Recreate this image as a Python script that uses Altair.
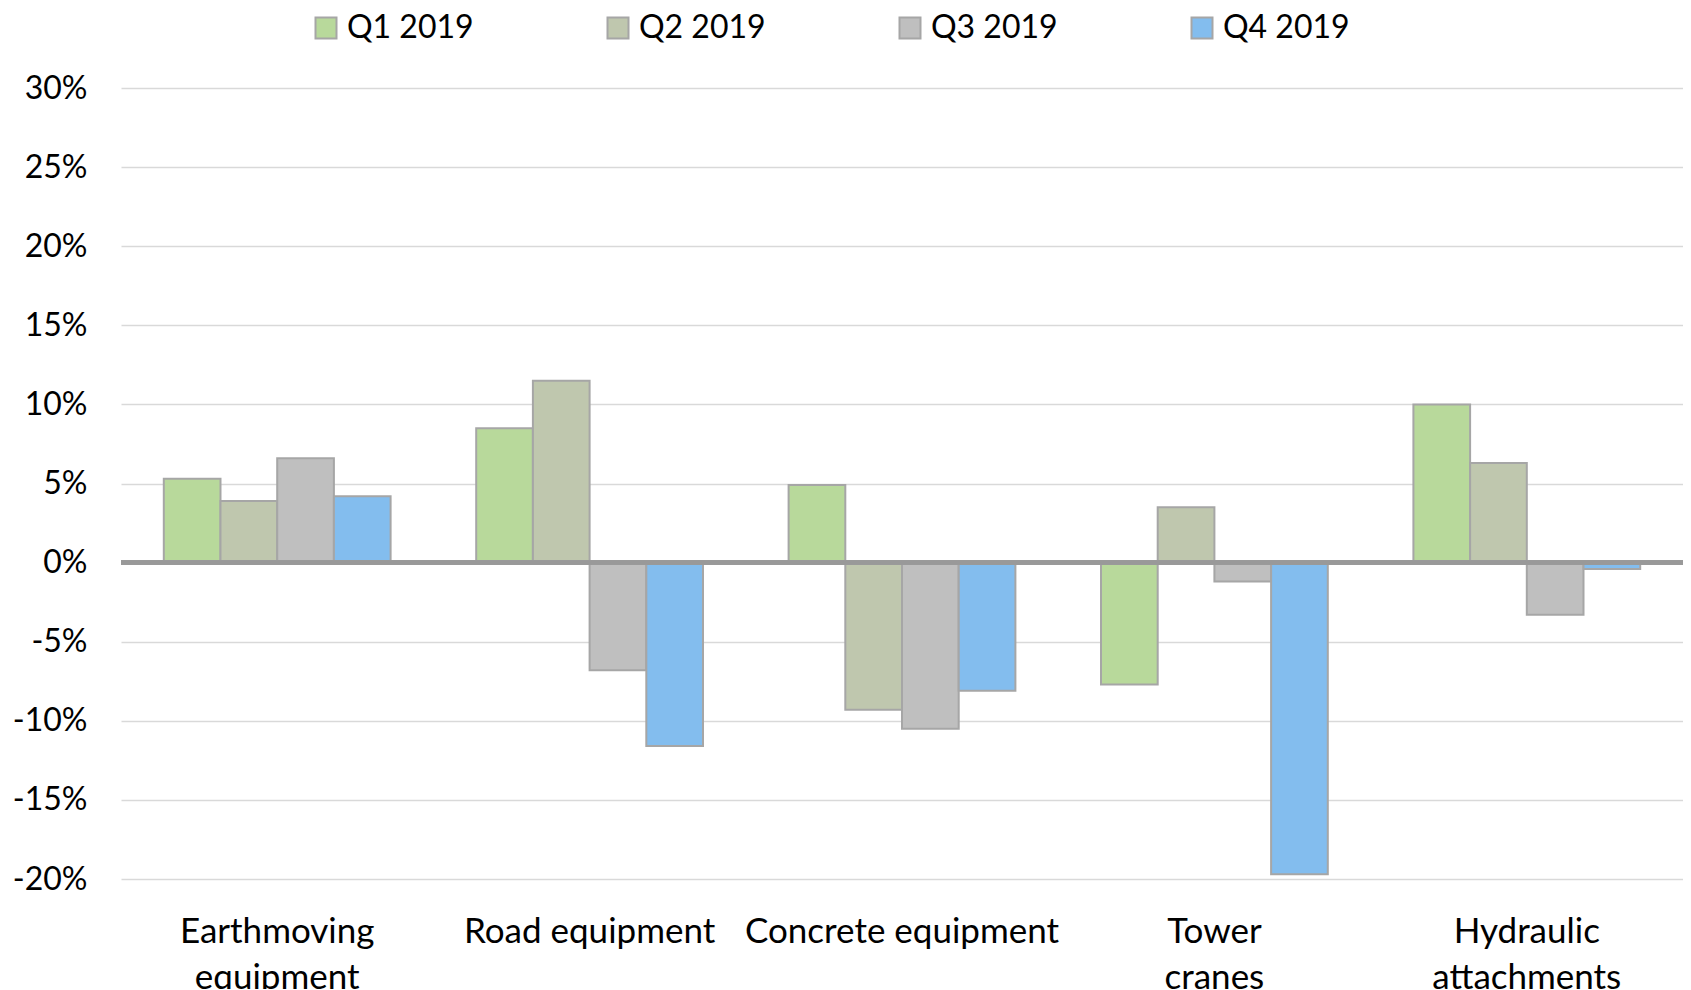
import altair as alt
import pandas as pd

categories = ["Earthmoving equipment", "Road equipment", "Concrete equipment",
              "Tower cranes", "Hydraulic attachments"]
quarters = ["Q1 2019", "Q2 2019", "Q3 2019", "Q4 2019"]
q1 = [5.3, 8.5, 4.9, -7.7, 10.0]
q2 = [3.9, 11.5, -9.3, 3.5, 6.3]
q3 = [6.6, -6.8, -10.5, -1.2, -3.3]
q4 = [4.2, -11.6, -8.1, -19.7, -0.4]
colors = ["#b8d99b", "#bfc7ae", "#bfbfbf", "#83bdee"]

rows = []
for qname, vals in zip(quarters, [q1, q2, q3, q4]):
    for c, v in zip(categories, vals):
        rows.append({"category": c, "quarter": qname, "value": v})
df = pd.DataFrame(rows)

FONT = "Lato"

bars = alt.Chart(df).mark_bar(stroke="#a6a6a6", strokeWidth=2).encode(
    x=alt.X("category:N", sort=categories, title=None,
            scale=alt.Scale(paddingInner=0.274, paddingOuter=0.137),
            axis=alt.Axis(labelAngle=0, domain=False, ticks=False,
                          labelFont=FONT, labelFontSize=35, labelColor="#000000",
                          labelPadding=35, labelLineHeight=46, labelLimit=400,
                          labelExpr="indexof(['Road equipment','Concrete equipment'], datum.label) >= 0 ? datum.label : split(datum.label, ' ')")),
    xOffset=alt.XOffset("quarter:N", sort=quarters,
                        scale=alt.Scale(paddingInner=0, paddingOuter=0)),
    y=alt.Y("value:Q", title=None,
            scale=alt.Scale(domain=[-20, 30], nice=False, zero=False),
            axis=alt.Axis(values=list(range(-20, 31, 5)), domain=False, ticks=False,
                          grid=True, gridColor="#d9d9d9", gridWidth=1.5,
                          labelFont=FONT, labelFontSize=32, labelColor="#000000",
                          labelPadding=34, labelExpr="datum.value + '%'")),
    color=alt.Color("quarter:N", sort=quarters,
                    scale=alt.Scale(domain=quarters, range=colors),
                    legend=alt.Legend(title=None, orient="none", direction="horizontal",
                                      legendX=189, legendY=-76, columns=4,
                                      columnPadding=128, padding=0,
                                      symbolType="square", symbolSize=441,
                                      symbolStrokeColor="#a6a6a6", symbolStrokeWidth=2,
                                      labelFont=FONT, labelFontSize=32, labelColor="#000000",
                                      labelOffset=5, labelLimit=300)),
)

zero = alt.Chart(df).mark_rule(color="#999999", strokeWidth=4).encode(
    y=alt.datum(0)
)

chart = alt.layer(bars, zero).properties(
    width=1562, height=791,
    autosize=alt.AutoSizeParams(type="none"),
    padding={"left": 113, "top": 80, "right": 0, "bottom": 110},
).configure_view(stroke=None)

chart.save("out.html", embed_options={"renderer": "svg", "actions": False})
